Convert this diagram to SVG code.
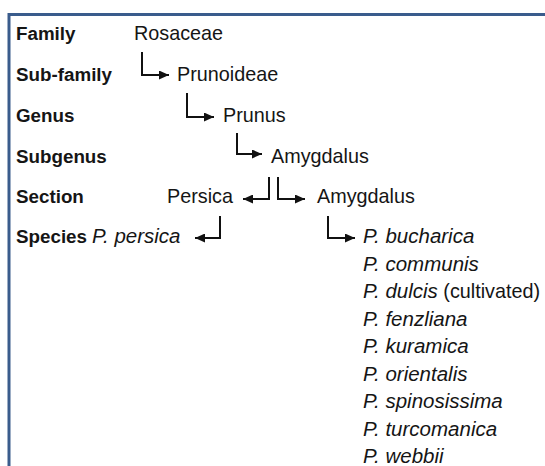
<svg xmlns="http://www.w3.org/2000/svg" width="545" height="466" viewBox="0 0 545 466">
  <defs>
    <style>
      .t { font-family: "Liberation Sans", Arial, sans-serif; font-size: 19.8px; fill: #151515; }
      .b { font-weight: bold; font-size: 18.8px; }
      .i { font-style: italic; font-size: 20.5px; }
      .c { fill: none; stroke: #111; stroke-width: 2; }
    </style>
    <marker id="ah" markerUnits="userSpaceOnUse" markerWidth="11" markerHeight="9" refX="10" refY="4.5" orient="auto">
      <path d="M0,0 L10,4.5 L0,9 Z" fill="#111"/>
    </marker>
  </defs>
  <rect x="9" y="14.5" width="600" height="500" fill="#fff" stroke="#3a5c8c" stroke-width="3"/>

  <g id="ranks">
    <text class="t b" x="16" y="40">Family</text>
    <text class="t b" x="16" y="81">Sub-family</text>
    <text class="t b" x="16" y="122">Genus</text>
    <text class="t b" x="16" y="163">Subgenus</text>
    <text class="t b" x="16" y="203">Section</text>
    <text class="t b" x="16" y="243">Species</text>
  </g>

  <g id="rosaceae"><text class="t" x="134" y="40">Rosaceae</text></g>
  <g id="prunoideae"><text class="t" x="177" y="81">Prunoideae</text></g>
  <g id="prunus"><text class="t" x="223" y="122">Prunus</text></g>
  <g id="amygdalus-subgenus"><text class="t" x="271" y="163">Amygdalus</text></g>
  <g id="persica"><text class="t" x="167" y="203">Persica</text></g>
  <g id="amygdalus-section"><text class="t" x="317" y="203">Amygdalus</text></g>
  <g id="p-persica"><text class="t i" x="92" y="243">P. persica</text></g>
  <g id="amygdalus-species">
    <text class="t i" x="363" y="243">P. bucharica</text>
    <text class="t i" x="363" y="270.5">P. communis</text>
    <text class="t" x="363" y="298"><tspan class="i">P. dulcis</tspan> (cultivated)</text>
    <text class="t i" x="363" y="325.5">P. fenzliana</text>
    <text class="t i" x="363" y="353">P. kuramica</text>
    <text class="t i" x="363" y="380.5">P. orientalis</text>
    <text class="t i" x="363" y="408">P. spinosissima</text>
    <text class="t i" x="363" y="435.5">P. turcomanica</text>
    <text class="t i" x="363" y="463">P. webbii</text>
  </g>

  <g id="connectors">
    <path class="c" d="M142,52 V75 H169" marker-end="url(#ah)"/>
    <path class="c" d="M187,93 V117 H214" marker-end="url(#ah)"/>
    <path class="c" d="M237,133 V154 H262" marker-end="url(#ah)"/>
    <path class="c" d="M269,177 V199 H243" marker-end="url(#ah)"/>
    <path class="c" d="M278,177 V199 H305" marker-end="url(#ah)"/>
    <path class="c" d="M220,216 V238 H195" marker-end="url(#ah)"/>
    <path class="c" d="M328,216 V238 H355" marker-end="url(#ah)"/>
  </g>
</svg>
